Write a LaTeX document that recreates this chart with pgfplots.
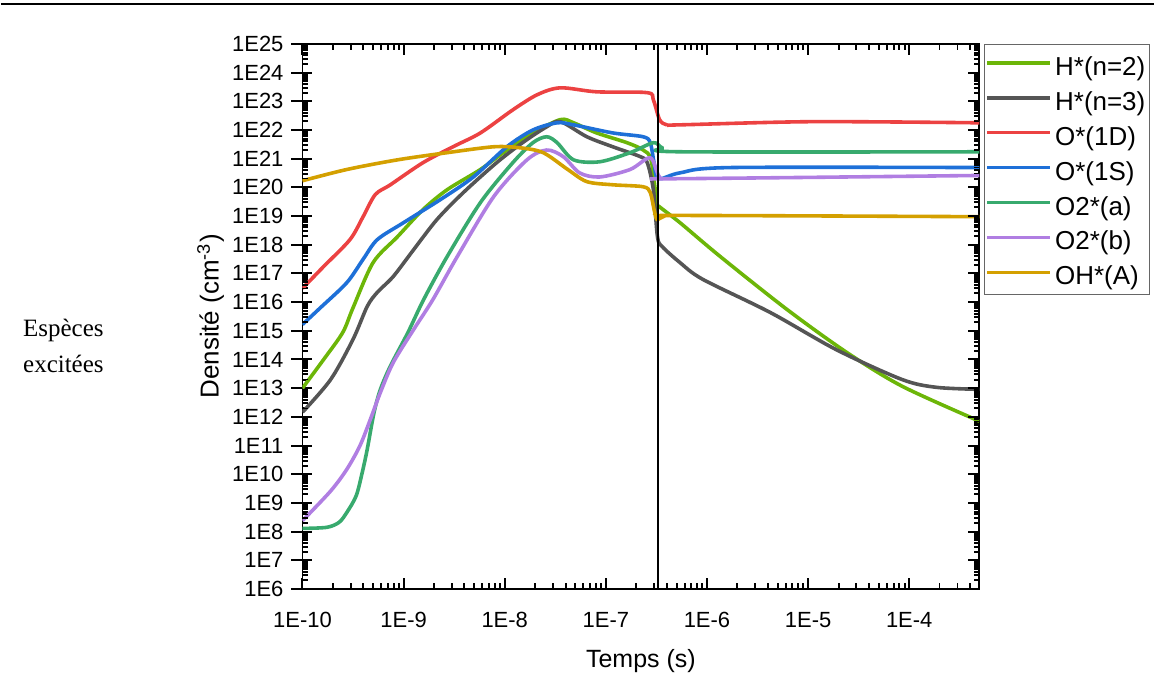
\documentclass[border=0pt]{standalone}
\usepackage{fontspec}
\setmainfont{Liberation Sans}
\newfontfamily\seriffont{Liberation Serif}
\usepackage{pgfplots}
\pgfplotsset{compat=1.18}
\definecolor{cH2}{RGB}{108,182,8}
\definecolor{cH3}{RGB}{85,85,85}
\definecolor{cO1D}{RGB}{236,66,66}
\definecolor{cO1S}{RGB}{30,112,216}
\definecolor{cO2a}{RGB}{56,170,110}
\definecolor{cO2b}{RGB}{176,126,226}
\definecolor{cOH}{RGB}{212,160,0}
\begin{document}
\begin{tikzpicture}
\draw[line width=1pt] (0,336.6pt) -- (577.5pt,336.6pt);
\path (0,0) rectangle (577.5pt,338.5pt);
\node[anchor=base,font=\seriffont\fontsize{12.5}{14}\selectfont] at (31.25pt,169.85pt) {Espèces};
\node[anchor=base,font=\seriffont\fontsize{12.5}{14}\selectfont] at (31.25pt,152.15pt) {excitées};
\begin{axis}[
  at={(151pt,43.5pt)}, anchor=south west,
  scale only axis, width=339pt, height=273pt,
  xmode=log, ymode=log,
  xmin=1e-10, xmax=4.93e-4, ymin=1e6, ymax=1e25,
  axis line style={line width=0.9pt},
  tick align=inside,
  major tick length=5pt, minor tick length=2.8pt,
  tick style={black, line width=1pt},
  xtick={1e-10,1e-9,1e-8,1e-7,1e-6,1e-5,1e-4},
  xticklabels={1E-10,1E-9,1E-8,1E-7,1E-6,1E-5,1E-4},
  ytick={1e6,1e7,1e8,1e9,1e10,1e11,1e12,1e13,1e14,1e15,1e16,1e17,1e18,1e19,1e20,1e21,1e22,1e23,1e24,1e25},
  yticklabels={1E6,1E7,1E8,1E9,1E10,1E11,1E12,1E13,1E14,1E15,1E16,1E17,1E18,1E19,1E20,1E21,1E22,1E23,1E24,1E25},
  xticklabel style={font=\fontsize{11}{13}\selectfont, yshift=-8pt},
  yticklabel style={font=\fontsize{11}{13}\selectfont, xshift=-6pt},
  xlabel={Temps (s)},
  ylabel={Densité (cm\textsuperscript{-3})},
  xlabel style={font=\fontsize{12.5}{15}\selectfont, at={(axis description cs:0.5,0)}, anchor=center, yshift=-36pt},
  ylabel style={font=\fontsize{13}{15}\selectfont, at={(axis description cs:-0.1357,0.5)}, anchor=center},
  legend style={at={(1,1)}, anchor=north west, xshift=2.5pt, draw=black!60, fill=white,
    font=\fontsize{13}{15}\selectfont, row sep=0pt, inner xsep=0.5pt, inner ysep=1.5pt,
    nodes={inner sep=1.5pt, text height=12.5pt, text depth=2pt}},
  legend cell align=left,
  legend image code/.code={\draw[#1,line width=1.8pt] (0pt,1pt) -- (31.5pt,1pt);},
]
\addplot[cH2, line width=1.8pt, smooth] coordinates {(1e-10,1e13) (1.62e-10,1e14) (2.5e-10,8.7e14) (3.16e-10,6.3e15) (5.0e-10,2.4e17) (8.7e-10,1.9e18) (1.55e-9,1.66e19) (2.7e-9,8.3e19) (5.75e-9,4.2e20) (1.05e-8,2.0e21) (1.9e-8,7.9e21) (3.55e-8,2.3e22) (4.8e-8,1.78e22) (8.1e-8,7.9e21) (1.62e-7,3.6e21) (2.34e-7,2.0e21) (2.8e-7,9.1e20) (3.2e-7,2.95e19) (3.4e-7,2.1e19) (5.4e-7,5.9e18) (1.35e-6,3.9e17) (6.2e-6,5.5e15) (2.4e-5,1.78e14) (8.5e-5,1.17e13) (4.93e-4,7.1e11)};
\addlegendentry{H*(n=2)}
\addplot[cH3, line width=1.8pt, smooth] coordinates {(1e-10,1.45e12) (1.9e-10,2.0e13) (3.16e-10,5.0e14) (4.37e-10,7.1e15) (5.5e-10,2.2e16) (7.9e-10,7.8e16) (1.26e-9,6.8e17) (2.14e-9,7.6e18) (3.9e-9,6.6e19) (8.3e-9,7.2e20) (1.5e-8,3.6e21) (2.6e-8,1.29e22) (3.55e-8,1.95e22) (6.5e-8,5.8e21) (1.17e-7,2.6e21) (2.2e-7,1.17e21) (2.57e-7,7.2e20) (2.95e-7,8.3e19) (3.24e-7,1.9e18) (3.6e-7,8.7e17) (5.4e-7,2.4e17) (9.1e-7,6.2e16) (4.2e-6,4.4e15) (1.9e-5,2.2e14) (8.5e-5,2.0e13) (1.86e-4,1.07e13) (4.93e-4,9.1e12)};
\addlegendentry{H*(n=3)}
\addplot[cO1D, line width=1.8pt, smooth] coordinates {(1e-10,3.0e16) (1.62e-10,1.74e17) (2.95e-10,1.51e18) (3.98e-10,9.5e18) (5.25e-10,5.6e19) (7.4e-10,1.23e20) (1.55e-9,7.2e20) (3.1e-9,2.63e21) (5.75e-9,7.9e21) (1.2e-8,5.0e22) (2.1e-8,1.7e23) (3.55e-8,2.95e23) (8.1e-8,2.14e23) (2.57e-7,2.0e23) (2.95e-7,1.12e23) (3.4e-7,2.3e22) (4.0e-7,1.51e22) (5.4e-7,1.51e22) (1.1e-5,1.95e22) (4.93e-4,1.78e22)};
\addlegendentry{O*(1D)}
\addplot[cO1S, line width=1.8pt, smooth] coordinates {(1e-10,1.66e15) (1.5e-10,6.3e15) (2.75e-10,4.8e16) (4.0e-10,3.2e17) (5.5e-10,1.51e18) (1e-9,5.9e18) (2.3e-9,3.7e19) (4.9e-9,2.3e20) (1.05e-8,2.6e21) (1.9e-8,1.0e22) (3.3e-8,1.78e22) (4.8e-8,1.51e22) (1.17e-7,7.9e21) (2.34e-7,5.8e21) (2.75e-7,3.6e21) (3.0e-7,7.2e20) (3.3e-7,2.0e20) (5.4e-7,3.2e20) (1.7e-6,4.9e20) (4.93e-4,4.9e20)};
\addlegendentry{O*(1S)}
\addplot[cO2a, line width=1.8pt, smooth] coordinates {(1e-10,1.29e8) (1.74e-10,1.41e8) (2.3e-10,2.1e8) (2.75e-10,4.7e8) (3.4e-10,1.78e9) (3.9e-10,1.15e10) (4.37e-10,7.4e10) (5.1e-10,1.41e12) (5.9e-10,9.1e12) (7.4e-10,5.9e13) (1.1e-9,8.5e14) (1.58e-9,1.23e16) (2.7e-9,3.9e17) (5.75e-9,2.95e19) (1.2e-8,7.2e20) (1.9e-8,3.6e21) (2.6e-8,5.8e21) (3.3e-8,3.6e21) (4.8e-8,9.1e20) (8.7e-8,7.8e20) (1.74e-7,1.62e21) (2.95e-7,3.6e21) (3.6e-7,2.4e21) (5.4e-7,1.74e21) (4.93e-4,1.74e21)};
\addlegendentry{O2*(a)}
\addplot[cO2b, line width=1.8pt, smooth] coordinates {(1e-10,2.4e8) (1.9e-10,2.6e9) (2.75e-10,1.5e10) (3.7e-10,9.8e10) (4.7e-10,8.3e11) (5.9e-10,7.1e12) (7.9e-10,7.8e13) (1.26e-9,1.12e15) (1.95e-9,1.23e16) (3.4e-9,3.9e17) (7.8e-9,4.8e19) (1.66e-8,9.1e20) (2.6e-8,2.0e21) (3.8e-8,1.17e21) (5.5e-8,3.2e20) (8.7e-8,2.3e20) (1.74e-7,4.2e20) (2.75e-7,1.07e21) (3.4e-7,2.3e20) (4.6e-7,2.0e20) (4.93e-4,2.6e20)};
\addlegendentry{O2*(b)}
\addplot[cOH, line width=1.8pt, smooth] coordinates {(1e-10,1.7e20) (2.75e-10,4.2e20) (8.7e-10,9.1e20) (2.7e-9,1.62e21) (7.8e-9,2.6e21) (1.41e-8,2.4e21) (2.4e-8,1.62e21) (4.2e-8,4.2e20) (6.5e-8,1.58e20) (1.17e-7,1.23e20) (2.34e-7,1.05e20) (2.75e-7,6.6e19) (3.0e-7,1.66e19) (3.2e-7,7.6e18) (3.7e-7,9.5e18) (5.4e-7,1.05e19) (4.93e-4,9.5e18)};
\addlegendentry{OH*(A)}
\addplot[black, line width=1pt, sharp plot, forget plot] coordinates {(3.3e-7,1e6) (3.3e-7,1e25)};
\node[anchor=base, font=\fontsize{13}{15}\selectfont, yshift=3.7pt] at (axis cs:3.3e-7,1e25) {330ns};
\end{axis}
% frame tick marks (axis box: x 151..490pt, y 43.5..316.5pt), no pgfmath used
\foreach \b in {43.5,57.87,72.24,86.61,100.97,115.34,129.71,144.08,158.45,172.82,187.18,201.55,215.92,230.29,244.66,259.03,273.39,287.76,302.13,316.5}{
  \draw[line width=1pt,black] (145.5pt,\b pt) -- (151pt,\b pt);
  \draw[line width=1pt,black] (490pt,\b pt) -- (484.5pt,\b pt);
}
\foreach \b in {43.5,57.87,72.24,86.61,100.97,115.34,129.71,144.08,158.45,172.82,187.18,201.55,215.92,230.29,244.66,259.03,273.39,287.76,302.13}{
  \foreach \o in {4.325,6.855,8.650,10.043,11.181,12.143,12.976,13.711}{
    \draw[line width=0.7pt,black] (151pt,\b pt) ++(0,\o pt) -- ++(2.8pt,0);
    \draw[line width=0.7pt,black] (490pt,\b pt) ++(0,\o pt) -- ++(-2.8pt,0);
  }
}
\foreach \a in {151,201.65,252.30,302.96,353.61,404.26,454.91}{
  \draw[line width=1pt,black] (\a pt,43.5pt) -- ++(0,5.5pt);
  \draw[line width=1pt,black] (\a pt,316.5pt) -- ++(0,-5.5pt);
}
\foreach \a in {151,201.65,252.30,302.96,353.61,404.26}{
  \foreach \o in {15.248,24.167,30.496,35.405,39.416,42.807,45.745,48.335}{
    \draw[line width=0.7pt,black] (\a pt,43.5pt) ++(\o pt,0) -- ++(0,2.8pt);
    \draw[line width=0.7pt,black] (\a pt,316.5pt) ++(\o pt,0) -- ++(0,-2.8pt);
  }
}
\foreach \o in {15.248,24.167,30.496}{
  \draw[line width=0.7pt,black] (454.91pt,43.5pt) ++(\o pt,0) -- ++(0,2.8pt);
  \draw[line width=0.7pt,black] (454.91pt,316.5pt) ++(\o pt,0) -- ++(0,-2.8pt);
}
\end{tikzpicture}
\end{document}
